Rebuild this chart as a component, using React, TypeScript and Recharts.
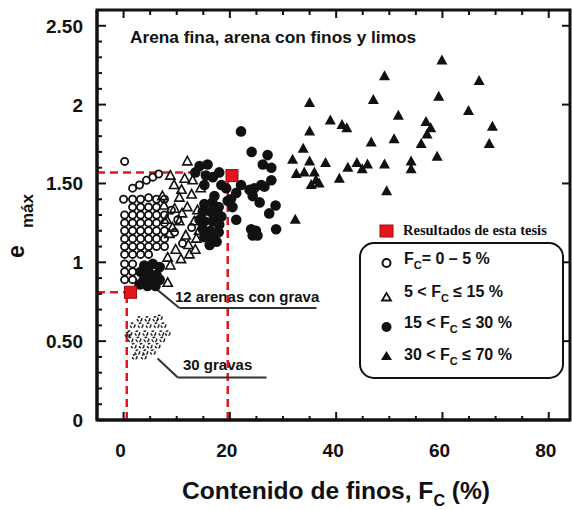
import { ScatterChart, Scatter, XAxis, YAxis, ReferenceLine } from "recharts";

// Fc (%) , e_max
const fc0a5: [number, number][] = [
  [0.2, 1.64], [0.0, 1.4],
  [0.2, 1.3], [0.2, 1.25], [0.2, 1.2], [0.2, 1.15], [0.2, 1.1], [0.2, 1.05], [0.2, 0.99], [0.2, 0.94], [0.2, 0.89],
  [1.7, 1.4], [1.7, 1.35], [1.7, 1.3], [1.7, 1.25], [1.7, 1.2], [1.7, 1.15], [1.7, 1.1], [1.7, 1.05], [1.7, 0.99], [1.7, 0.94], [1.7, 0.89],
  [3.2, 1.4], [3.2, 1.35], [3.2, 1.3], [3.2, 1.25], [3.2, 1.2], [3.2, 1.15], [3.2, 1.1], [3.2, 1.05],
  [4.7, 1.41], [4.7, 1.35], [4.7, 1.3], [4.7, 1.25], [4.7, 1.2], [4.7, 1.15], [4.7, 1.1], [4.7, 1.05],
  [6.2, 1.4], [6.2, 1.35], [6.2, 1.3], [6.2, 1.25], [6.2, 1.2], [6.2, 1.15], [6.2, 1.1],
  [7.7, 1.3], [7.7, 1.25], [7.7, 1.2], [7.7, 1.15], [7.7, 1.1], [7.7, 1.4],
  [1.7, 1.47], [3.0, 1.49], [4.3, 1.52], [5.5, 1.54], [6.6, 1.56],
  [9.0, 1.33], [11.1, 1.12], [12.8, 1.22], [10.2, 1.27], [9.6, 1.19],
];

const fc5a15: [number, number][] = [
  [12.0, 1.64], [11.5, 1.53], [8.8, 1.55], [14.5, 1.47], [7.3, 1.42], [10.5, 1.41],
  [12.8, 1.43], [9.6, 1.34], [12.0, 1.35], [8.1, 1.27], [10.5, 1.26], [13.3, 1.26],
  [8.6, 1.18], [11.7, 1.17], [13.7, 1.15], [9.8, 1.08], [12.4, 1.05], [8.3, 1.03],
  [13.5, 1.08], [8.8, 0.98], [8.3, 0.87],
  [7.6, 1.36], [11.0, 1.31], [9.2, 1.22], [12.2, 1.11], [10.8, 1.02], [14.2, 1.2],
  [13.9, 1.33], [10.9, 1.46], [13.0, 1.52], [9.5, 1.49],
];

const fc15a30: [number, number][] = [
  [22.1, 1.83], [24.1, 1.7], [27.1, 1.68], [26.2, 1.62], [27.8, 1.6], [22.1, 1.49],
  [24.6, 1.47], [26.5, 1.48], [27.8, 1.52], [17.1, 1.42], [20.2, 1.4], [21.2, 1.44],
  [24.3, 1.42], [25.6, 1.38], [28.6, 1.36], [27.4, 1.31], [21.2, 1.27], [28.7, 1.21],
  [24.0, 1.21], [24.9, 1.2], [24.3, 1.17], [25.2, 1.17], [18.4, 1.49], [19.3, 1.47],
  [23.7, 1.46], [25.9, 1.49], [14.3, 1.61], [15.5, 1.55], [16.8, 1.54], [18.0, 1.57],
  [15.2, 1.49], [19.6, 1.39], [20.5, 1.35], [13.5, 1.57], [15.8, 1.62],
  [15.2, 1.37], [16.7, 1.38], [17.9, 1.35], [14.9, 1.32], [16.4, 1.32], [17.9, 1.3],
  [15.2, 1.26], [16.7, 1.26], [18.0, 1.24], [14.9, 1.21], [16.4, 1.2], [17.9, 1.19],
  [15.2, 1.16], [16.7, 1.15], [16.2, 1.11], [17.5, 1.13], [14.3, 1.27], [18.4, 1.29],
  [3.9, 0.98], [5.5, 0.99], [6.8, 0.97], [3.2, 0.94], [4.7, 0.94], [6.2, 0.92],
  [3.8, 0.89], [5.3, 0.89], [6.8, 0.89], [4.5, 0.85], [6.0, 0.85], [3.0, 0.86],
];

const fc30a70: [number, number][] = [
  [59.9, 2.28], [49.1, 2.18], [66.9, 2.15], [35.0, 2.01], [47.0, 2.03], [59.3, 2.05],
  [64.9, 1.96], [38.9, 1.9], [41.1, 1.87], [42.0, 1.85], [51.7, 1.93], [35.0, 1.83],
  [69.4, 1.86], [56.9, 1.89], [57.8, 1.85], [57.1, 1.81], [56.0, 1.75], [50.9, 1.78],
  [46.6, 1.76], [68.8, 1.75], [33.8, 1.72], [31.8, 1.65], [35.0, 1.64], [38.0, 1.63],
  [59.0, 1.67], [32.5, 1.56], [34.0, 1.57], [35.9, 1.57], [36.2, 1.52], [35.3, 1.49],
  [36.8, 1.5], [42.2, 1.6], [43.9, 1.63], [44.9, 1.59], [45.9, 1.62], [49.1, 1.62],
  [54.1, 1.64], [54.1, 1.59], [40.6, 1.53], [49.5, 1.45], [32.3, 1.27],
];

const gravas30: [number, number][] = [
  [3.0, 0.64], [4.5, 0.64], [6.0, 0.64],
  [1.7, 0.6], [3.2, 0.6], [4.7, 0.6], [6.2, 0.6], [7.5, 0.6],
  [1.1, 0.55], [2.6, 0.55], [4.1, 0.55], [5.6, 0.55], [7.1, 0.55], [8.3, 0.55],
  [1.3, 0.51], [2.8, 0.51], [4.3, 0.51], [5.8, 0.51], [7.3, 0.51],
  [1.9, 0.47], [3.4, 0.47], [4.9, 0.47], [6.4, 0.47],
  [2.6, 0.43], [4.1, 0.43], [5.5, 0.43],
  [0.75, 0.54], [2.1, 0.4], [3.8, 0.4], [6.8, 0.65],
];

const estaTesis: [number, number][] = [
  [20.4, 1.55],
  [1.3, 0.81],
];

const X_MIN = -5;
const X_MAX = 84;
const Y_MAX = 2.6;
const xTicks = [0, 5, 10, 15, 20, 25, 30, 35, 40, 45, 50, 55, 60, 65, 70, 75, 80];
const xMajor = [0, 20, 40, 60, 80];
const yTicks = [
  0, 0.1, 0.2, 0.3, 0.4, 0.5, 0.6, 0.7, 0.8, 0.9, 1, 1.1, 1.2, 1.3, 1.4, 1.5, 1.6,
  1.7, 1.8, 1.9, 2, 2.1, 2.2, 2.3, 2.4, 2.5, 2.6,
];
const yMajor = [0, 0.5, 1, 1.5, 2, 2.5];
const yMajorLabels = ["0", "0.50", "1", "1.50", "2", "2.50"];

const toRows = (pts: [number, number][]) => pts.map(([fc, e]) => ({ fc, e }));

const INK = "#111";
const RED = "#e3161d";
const FONT = "'Liberation Sans', Arial, sans-serif";

// área de trazado: margen izq. 97 (eje Y), sup. 10, der. 2, inf. 90 (eje X)
const PLOT = { left: 97, top: 10, width: 473, height: 410 };
const sx = (v: number) => PLOT.left + ((v - X_MIN) / (X_MAX - X_MIN)) * PLOT.width;
const sy = (v: number) => PLOT.top + (1 - v / Y_MAX) * PLOT.height;

const isMajorY = (v: number) => yMajor.some((m) => Math.abs(m - v) < 1e-6);
const labelY = (v: number) => yMajorLabels[yMajor.findIndex((m) => Math.abs(m - v) < 1e-6)];

function BottomTick(props: any) {
  const { x, y, payload } = props;
  const major = xMajor.includes(payload.value);
  return (
    <g>
      <line x1={x} y1={y} x2={x} y2={y - (major ? 8 : 4)} stroke={INK} strokeWidth={2} />
      {major && (
        <text x={x - 3} y={y + 37} textAnchor="middle" fontSize={19} fontWeight="bold" fontFamily={FONT} fill={INK}>
          {payload.value}
        </text>
      )}
    </g>
  );
}

function LeftTick(props: any) {
  const { x, y, payload } = props;
  const major = isMajorY(payload.value);
  return (
    <g>
      <line x1={x} y1={y} x2={x + (major ? 9 : 5)} y2={y} stroke={INK} strokeWidth={2} />
      {major && (
        <text x={x - 14} y={y + 7} textAnchor="end" fontSize={19} fontWeight="bold" fontFamily={FONT} fill={INK}>
          {labelY(payload.value)}
        </text>
      )}
    </g>
  );
}

// marco completo del área de trazado, con las marcas superiores y derechas
function Frame() {
  const right = PLOT.left + PLOT.width;
  return (
    <g>
      <rect x={PLOT.left} y={PLOT.top} width={PLOT.width} height={PLOT.height} fill="none" stroke={INK} strokeWidth={3} />
      {xTicks.map((v) => (
        <line key={`t${v}`} x1={sx(v)} y1={PLOT.top} x2={sx(v)} y2={PLOT.top + (xMajor.includes(v) ? 8 : 5)} stroke={INK} strokeWidth={2} />
      ))}
      {yMajor.map((v) => (
        <line key={`r${v}`} x1={right} y1={sy(v)} x2={right - 8} y2={sy(v)} stroke={INK} strokeWidth={2} />
      ))}
    </g>
  );
}

const OpenCircle = (p: any) => (
  <circle cx={p.cx} cy={p.cy} r={3.6} fill="none" stroke={INK} strokeWidth={1.8} />
);
const OpenTriangle = (p: any) => (
  <polygon
    points={`${p.cx},${p.cy - 5} ${p.cx - 4.6},${p.cy + 3.5} ${p.cx + 4.6},${p.cy + 3.5}`}
    fill="none"
    stroke={INK}
    strokeWidth={1.6}
  />
);
const FilledCircle = (p: any) => <circle cx={p.cx} cy={p.cy} r={5.3} fill={INK} />;
const FilledTriangle = (p: any) => (
  <polygon points={`${p.cx},${p.cy - 6} ${p.cx - 5.5},${p.cy + 4} ${p.cx + 5.5},${p.cy + 4}`} fill={INK} />
);
const GravaDot = (p: any) => (
  <circle cx={p.cx} cy={p.cy} r={2.3} fill="none" stroke="#222" strokeWidth={1.5} strokeDasharray="2.5 1.5" />
);
const RedSquare = (p: any) => (
  <rect x={p.cx - 6} y={p.cy - 6} width={12} height={12} fill={RED} stroke="#9c0a0e" strokeWidth={1} />
);

const dashRed = { stroke: RED, strokeWidth: 2.5, strokeDasharray: "8 5", ifOverflow: "visible" as const };
const leader = { stroke: "#333", strokeWidth: 2, ifOverflow: "visible" as const };

function LegendBox() {
  const t = { fontFamily: FONT, fontWeight: "bold" as const, fill: INK };
  return (
    <g>
      <rect x={380} y={225} width={13} height={12} fill={RED} stroke="#9c0a0e" />
      <text x={403} y={235} fontFamily="'Liberation Serif', 'Times New Roman', serif" fontWeight="bold" fontSize={14.5} fill={INK}>
        Resultados de esta tesis
      </text>
      <rect x={360} y={243} width={203} height={135} rx={14} fill="none" stroke={INK} strokeWidth={2} />
      <circle cx={386.5} cy={263} r={4} fill="none" stroke={INK} strokeWidth={2} />
      <polygon points="386.5,293 382,300.5 391,300.5" fill="none" stroke={INK} strokeWidth={1.8} />
      <circle cx={386.5} cy={327} r={5} fill={INK} />
      <polygon points="386.5,351 381,360 392,360" fill={INK} />
      <text x={404} y={264} fontSize={16} {...t}>
        F<tspan fontSize={11} dy={5}>C</tspan>
        <tspan dy={-5}>= 0 – 5 %</tspan>
      </text>
      <text x={404} y={297} fontSize={16} {...t}>
        5 &lt; F<tspan fontSize={11} dy={5}>C</tspan>
        <tspan dy={-5}> ≤ 15 %</tspan>
      </text>
      <text x={404} y={328} fontSize={16} {...t}>
        15 &lt; F<tspan fontSize={11} dy={5}>C</tspan>
        <tspan dy={-5}> ≤ 30 %</tspan>
      </text>
      <text x={404} y={360} fontSize={16} {...t}>
        30 &lt; F<tspan fontSize={11} dy={5}>C</tspan>
        <tspan dy={-5}> ≤ 70 %</tspan>
      </text>
    </g>
  );
}

export default function App() {
  const t = { fontFamily: FONT, fontWeight: "bold" as const, fill: INK };
  return (
    <div style={{ position: "absolute", left: 0, top: 0, width: 572, height: 510, background: "#fff" }}>
      <ScatterChart
        width={572}
        height={510}
        margin={{ top: PLOT.top, right: 572 - PLOT.left - PLOT.width, bottom: 0, left: 0 }}
      >
        <XAxis
          dataKey="fc"
          type="number"
          domain={[X_MIN, X_MAX]}
          allowDataOverflow
          ticks={xTicks}
          interval={0}
          height={510 - PLOT.top - PLOT.height}
          tickSize={0}
          tickMargin={0}
          tickLine={false}
          axisLine={{ stroke: INK, strokeWidth: 3 }}
          tick={BottomTick}
        />
        <YAxis
          dataKey="e"
          type="number"
          domain={[0, Y_MAX]}
          allowDataOverflow
          ticks={yTicks}
          interval={0}
          width={PLOT.left}
          tickSize={0}
          tickMargin={0}
          tickLine={false}
          axisLine={{ stroke: INK, strokeWidth: 3 }}
          tick={LeftTick}
        />

        <Frame />

        <Scatter data={toRows(gravas30)} shape={GravaDot} isAnimationActive={false} />
        <Scatter data={toRows(fc0a5)} shape={OpenCircle} isAnimationActive={false} />
        <Scatter data={toRows(fc5a15)} shape={OpenTriangle} isAnimationActive={false} />
        <Scatter data={toRows(fc15a30)} shape={FilledCircle} isAnimationActive={false} />
        <Scatter data={toRows(fc30a70)} shape={FilledTriangle} isAnimationActive={false} />

        <ReferenceLine segment={[{ x: X_MIN, y: 1.57 }, { x: 19.6, y: 1.57 }]} {...dashRed} />
        <ReferenceLine segment={[{ x: 19.6, y: 0 }, { x: 19.6, y: 1.57 }]} {...dashRed} />
        <ReferenceLine segment={[{ x: X_MIN, y: 0.81 }, { x: 0.6, y: 0.81 }]} {...dashRed} />
        <ReferenceLine segment={[{ x: 0.6, y: 0 }, { x: 0.6, y: 0.81 }]} {...dashRed} />

        <ReferenceLine segment={[{ x: 6.2, y: 0.83 }, { x: 10.5, y: 0.71 }]} {...leader} />
        <ReferenceLine segment={[{ x: 10.5, y: 0.71 }, { x: 36.3, y: 0.71 }]} {...leader} />
        <ReferenceLine segment={[{ x: 6.4, y: 0.39 }, { x: 10.2, y: 0.27 }]} {...leader} />
        <ReferenceLine segment={[{ x: 10.2, y: 0.27 }, { x: 26.9, y: 0.27 }]} {...leader} />

        <Scatter data={toRows(estaTesis)} shape={RedSquare} isAnimationActive={false} />

        <text x={130} y={43} fontSize={17.3} {...t}>Arena fina, arena con finos y limos</text>
        <text x={175} y={302} fontSize={15} {...t}>12 arenas con grava</text>
        <text x={183} y={370} fontSize={15} {...t}>30 gravas</text>
        <LegendBox />

        <text x={182} y={499} fontSize={24.6} {...t}>
          Contenido de finos, F<tspan fontSize={16} dy={7}>C</tspan>
          <tspan dy={-7}> (%)</tspan>
        </text>
        <text transform="translate(24,258) rotate(-90)" fontSize={23} {...t}>e</text>
        <text transform="translate(33,228) rotate(-90)" fontSize={17} {...t}>máx</text>
      </ScatterChart>
    </div>
  );
}
